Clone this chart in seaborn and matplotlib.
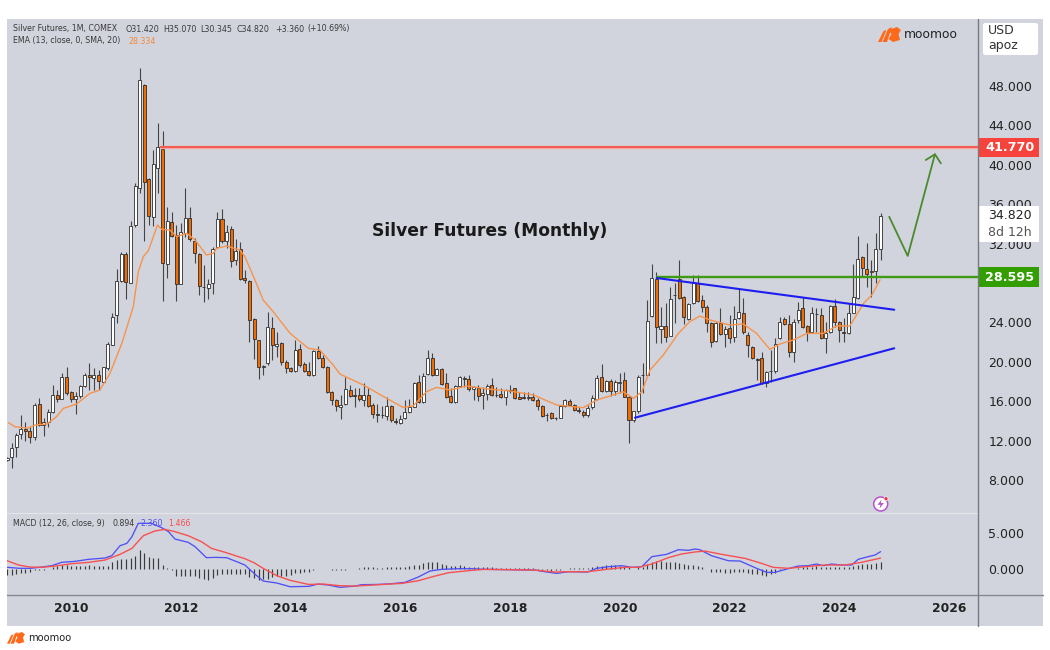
"""
Silver Futures (Monthly) - candles, EMA and MACD
"""
import matplotlib
matplotlib.use("Agg")
import matplotlib.pyplot as plt
import numpy as np
import pandas as pd
import seaborn as sns
from matplotlib.lines import Line2D
from matplotlib.patches import Ellipse, FancyBboxPatch, Polygon, Rectangle
from matplotlib.transforms import IdentityTransform

# monthly candles
OPENS = [10.00,
    10.31, 11.39, 12.64, 13.15, 12.95, 12.34, 15.72, 13.62, 13.93,
    14.87, 16.67, 16.26, 18.50, 16.94, 16.19, 16.50, 17.51, 18.63, 18.36,
    18.63, 17.99, 19.34, 21.74, 24.72, 28.24, 30.91, 28.04, 33.86, 37.65,
    48.10, 38.56, 34.74, 39.68, 41.61, 29.90, 34.16, 32.84, 27.94, 33.11,
    34.57, 32.30, 30.95, 27.63, 27.50, 27.97, 31.69, 34.50, 32.27, 33.45,
    30.34, 31.42, 28.48, 28.21, 24.32, 22.18, 19.51, 19.85, 23.47, 21.64,
    21.95, 19.98, 19.41, 19.04, 21.34, 19.81, 19.10, 18.66, 21.10, 20.42,
    19.51, 16.94, 16.09, 15.38, 15.72, 17.18, 16.60, 16.60, 16.13, 16.67,
    15.59, 14.74, 14.61, 14.50, 15.52, 14.03, 13.79, 14.27, 14.88, 15.45,
    17.96, 15.96, 18.77, 20.43, 18.70, 19.24, 17.85, 16.53, 15.96, 17.58,
    18.36, 18.23, 17.24, 17.31, 16.60, 16.77, 17.65, 16.67, 16.70, 16.43,
    17.18, 17.31, 16.43, 16.40, 16.33, 16.43, 16.16, 15.49, 14.64, 14.77,
    14.30, 14.33, 15.52, 15.99, 15.59, 15.11, 14.94, 14.57, 15.38, 16.23,
    18.50, 17.01, 18.09, 17.04, 17.89, 18.12, 16.46, 14.10, 14.98, 18.63,
    18.66, 24.69, 28.44, 23.30, 23.60, 22.66, 26.79, 28.41, 26.62, 24.38,
    25.94, 28.04, 26.24, 25.60, 23.91, 22.15, 23.98, 22.83, 23.40, 22.49,
    24.42, 24.92, 22.76, 21.54, 20.25, 20.36, 17.89, 19.04, 19.07, 22.39,
    24.32, 23.81, 21.00, 24.25, 25.43, 23.60, 23.03, 24.89, 24.79, 22.39,
    23.00, 25.64, 24.01, 23.03, 22.89, 24.99, 26.52, 30.61, 29.39, 29.15,
    29.22, 31.42]
HIGHS = [10.30,
    11.73, 12.74, 14.60, 13.93, 13.35, 15.85, 16.29, 14.26, 15.18,
    17.65, 17.14, 18.90, 19.51, 17.07, 16.97, 17.65, 18.83, 19.85, 19.34,
    19.17, 19.51, 22.05, 24.92, 29.39, 31.18, 31.18, 34.33, 38.15, 49.83,
    48.20, 38.66, 41.50, 44.24, 43.43, 35.72, 35.25, 33.89, 34.13, 37.65,
    35.72, 32.54, 31.02, 29.83, 28.41, 31.69, 35.25, 35.48, 33.89, 33.79,
    32.44, 32.20, 29.32, 28.31, 24.42, 22.22, 19.68, 25.09, 24.52, 23.06,
    22.05, 20.19, 19.51, 22.22, 21.81, 20.02, 20.02, 21.20, 21.64, 20.69,
    19.61, 17.07, 16.19, 16.64, 18.50, 17.65, 17.31, 17.31, 17.82, 17.31,
    15.79, 15.69, 15.52, 16.40, 15.62, 14.27, 14.61, 16.13, 16.20, 17.99,
    18.67, 18.90, 21.20, 20.93, 19.34, 19.34, 18.84, 17.31, 17.65, 18.57,
    18.57, 18.67, 17.55, 17.65, 17.48, 17.75, 18.33, 17.48, 17.31, 17.21,
    17.65, 17.38, 16.97, 16.97, 16.97, 16.87, 16.30, 15.62, 14.77, 14.94,
    14.44, 15.62, 16.20, 16.20, 15.69, 15.38, 15.11, 15.62, 16.64, 18.67,
    19.78, 18.16, 18.23, 18.16, 18.90, 19.00, 16.53, 15.04, 18.66, 19.85,
    26.28, 29.93, 29.15, 25.60, 25.94, 27.63, 27.97, 30.34, 26.68, 25.94,
    28.82, 28.82, 26.79, 25.74, 24.08, 24.08, 25.43, 23.64, 24.76, 25.67,
    27.46, 26.45, 23.06, 21.61, 20.36, 21.03, 19.10, 21.20, 22.39, 24.52,
    24.59, 24.76, 24.32, 26.11, 26.55, 23.74, 25.53, 25.43, 25.43, 24.08,
    25.74, 26.35, 24.18, 24.42, 25.94, 29.93, 32.78, 30.74, 32.03, 30.34,
    33.05, 35.07]
LOWS = [9.90,
    9.23, 10.37, 12.13, 12.00, 11.79, 12.07, 13.49, 12.47, 13.42,
    14.77, 15.96, 16.19, 16.63, 15.96, 14.71, 16.30, 17.41, 17.14, 17.14,
    17.14, 17.89, 19.17, 21.68, 23.98, 28.14, 26.35, 27.97, 33.66, 37.14,
    32.30, 33.89, 33.79, 37.14, 26.21, 28.48, 32.71, 26.21, 27.90, 32.71,
    32.30, 30.00, 26.79, 26.11, 26.41, 26.89, 31.62, 32.03, 31.52, 29.66,
    29.83, 28.31, 27.97, 22.05, 20.25, 18.22, 18.66, 19.68, 20.19, 20.53,
    19.68, 18.83, 19.00, 18.97, 19.51, 19.00, 18.56, 18.56, 20.25, 19.34,
    16.80, 15.62, 15.04, 14.17, 15.62, 16.40, 15.38, 16.06, 15.52, 15.45,
    14.27, 13.93, 14.27, 14.10, 13.93, 13.66, 13.69, 14.20, 14.84, 15.38,
    15.86, 15.86, 18.67, 18.57, 18.63, 17.65, 16.30, 15.79, 15.86, 17.48,
    17.48, 17.08, 16.13, 16.06, 15.18, 16.13, 16.53, 16.40, 16.36, 15.62,
    16.87, 16.20, 16.20, 16.20, 16.13, 16.03, 15.11, 14.37, 14.03, 14.17,
    14.10, 14.27, 15.38, 15.52, 15.05, 14.84, 14.37, 14.44, 15.21, 16.13,
    16.94, 16.94, 16.53, 16.60, 16.81, 16.40, 11.73, 13.93, 14.84, 16.80,
    18.56, 24.59, 21.88, 21.88, 21.98, 22.62, 23.91, 26.35, 23.84, 24.25,
    25.87, 26.07, 25.09, 23.06, 21.47, 22.05, 22.72, 21.47, 21.95, 22.05,
    24.32, 22.83, 20.53, 20.25, 18.16, 17.75, 17.41, 17.99, 18.90, 22.28,
    23.71, 20.53, 19.95, 23.98, 23.40, 22.15, 22.89, 23.06, 22.32, 20.93,
    22.89, 23.57, 22.05, 22.05, 22.83, 24.92, 26.35, 28.71, 27.56, 26.62,
    28.04, 30.345]
CLOSES = [10.25,
    11.29, 12.54, 13.15, 12.95, 12.34, 15.58, 13.62, 13.93, 14.87,
    16.67, 16.23, 18.50, 16.80, 16.19, 16.50, 17.51, 18.63, 18.46, 18.70,
    18.02, 19.44, 21.84, 24.52, 28.24, 30.91, 28.14, 33.82, 37.85, 48.61,
    38.26, 34.81, 40.08, 41.81, 30.07, 34.33, 32.78, 27.87, 33.22, 34.57,
    32.44, 31.02, 27.73, 27.56, 27.87, 31.42, 34.54, 32.30, 33.22, 30.20,
    31.29, 28.41, 28.27, 24.21, 22.28, 19.44, 19.61, 23.50, 21.71, 21.84,
    19.98, 19.34, 19.04, 21.20, 19.71, 19.10, 18.63, 21.07, 20.42, 19.51,
    16.97, 16.13, 15.52, 15.59, 17.21, 16.50, 16.53, 16.20, 16.67, 15.55,
    14.74, 14.61, 14.57, 15.52, 14.10, 13.86, 14.23, 14.88, 15.38, 17.82,
    15.96, 18.60, 20.36, 18.70, 19.24, 17.79, 16.43, 15.93, 17.52, 18.43,
    18.23, 17.21, 17.41, 16.57, 16.81, 17.58, 16.67, 16.60, 16.47, 17.14,
    17.04, 16.36, 16.26, 16.36, 16.43, 16.13, 15.52, 14.54, 14.57, 14.27,
    14.27, 15.52, 16.09, 15.59, 15.15, 14.98, 14.57, 15.32, 16.36, 18.36,
    17.04, 18.09, 17.08, 17.92, 17.99, 16.46, 14.10, 14.98, 18.50, 18.66,
    24.18, 28.55, 23.50, 23.60, 22.56, 26.38, 26.82, 26.45, 24.52, 25.87,
    27.97, 26.14, 25.53, 23.98, 22.05, 23.98, 22.83, 23.30, 22.39, 24.32,
    25.09, 23.03, 21.68, 20.36, 20.22, 17.82, 18.97, 19.07, 21.78, 24.01,
    23.81, 21.00, 24.08, 25.23, 23.54, 22.96, 24.92, 24.82, 22.39, 22.96,
    25.64, 24.01, 23.23, 22.89, 24.92, 26.62, 30.41, 29.56, 28.95, 29.19,
    31.42, 34.82]

# EMA line, read at its turning points (bar number, price)
EMA_BARS = [0.3, 1.7, 4.6, 6.1, 8.7, 10.8, 12.3, 15.2, 18.1, 20.3, 22.5, 25.1, 27.6, 28.7, 29.8, 30.9,
            32.9, 33.8, 35.6, 37.1, 39.3, 41.1, 43.6, 45.1, 45.8, 48, 50.9, 52, 54.2, 56, 58.2, 61.9,
            65.9, 68.4, 71.3, 72.8, 77.9, 83, 86.6, 88.8, 91.7, 93.9, 96.9, 100.5, 105, 110, 115.1,
            120.2, 126, 128.9, 132.6, 134.7, 137, 138.8, 140.6, 143.5, 146.8, 149.3, 151.5, 153.7,
            158.1, 161, 163.9, 166.8, 169, 171.9, 174.9, 178.5, 181.4, 184.3, 187.3, 189.1, 190.9]
EMA_VALUES = [13.83, 13.42, 13.28, 13.59, 13.69, 14.43, 15.28, 15.72, 16.80, 17.14, 18.83, 21.88, 25.60, 29.15, 30.68, 31.29,
              33.89, 33.45, 33.38, 32.71, 33.05, 32.37, 30.85, 31.02, 31.52, 31.76, 31.35, 30.68, 28.31, 26.28, 25.09, 22.89,
              21.37, 21.20, 19.68, 18.76, 17.65, 16.30, 15.38, 15.52, 16.97, 17.41, 17.14, 17.55, 17.25, 17.04, 16.64,
              15.62, 15.35, 16.13, 16.64, 16.97, 16.30, 16.97, 19.17, 20.69, 22.89, 24.08, 24.65, 24.25,
              23.74, 23.84, 22.89, 21.27, 21.81, 22.22, 22.89, 22.89, 23.64, 23.64, 25.94, 26.79, 28.33]

# MACD histogram, one value per bar
MACD_HIST = [-0.90, -0.88, -0.79, -0.60, -0.56, -0.51, -0.19, -0.14, -0.14, -0.05,
    0.23, 0.37, 0.51, 0.51, 0.37, 0.32, 0.42, 0.42, 0.51, 0.37,
    0.32, 0.37, 0.42, 0.88, 1.16, 1.39, 1.39, 1.53, 1.81, 2.55,
    2.13, 1.62, 1.53, 1.48, 0.51, 0.09, -0.19, -1.02, -1.02, -0.97,
    -0.97, -1.06, -1.25, -1.48, -1.57, -1.25, -0.93, -0.69, -0.74, -0.69,
    -0.69, -0.79, -0.79, -1.16, -1.34, -1.53, -1.48, -1.44, -1.16, -1.06,
    -1.06, -1.02, -0.88, -0.65, -0.56, -0.46, -0.46, -0.14, -0.03, -0.05,
    -0.05, -0.19, -0.23, -0.23, -0.14, -0.09, 0.02, 0.09, 0.19, 0.23,
    0.19, 0.14, 0.14, 0.23, 0.19, 0.19, 0.19, 0.28, 0.32, 0.51,
    0.56, 0.79, 0.93, 0.93, 0.93, 0.65, 0.51, 0.42, 0.32, 0.46,
    0.42, 0.28, 0.19, 0.19, 0.19, 0.23, 0.19, 0.09, 0.09, 0.09,
    0.09, 0.09, 0.09, 0.09, 0.09, 0.09, -0.19, -0.23, -0.23, -0.28,
    -0.23, -0.19, 0.02, 0.05, 0.05, 0.05, 0.05, 0.05, 0.19, 0.37,
    0.42, 0.46, 0.51, 0.46, 0.37, 0.37, 0.19, -0.09, 0.19, 0.28,
    0.60, 0.97, 1.11, 1.11, 0.88, 0.93, 0.93, 0.83, 0.65, 0.56,
    0.56, 0.42, 0.28, 0.02, -0.42, -0.46, -0.51, -0.60, -0.56, -0.51,
    -0.51, -0.51, -0.60, -0.69, -0.79, -0.93, -0.97, -0.79, -0.65, -0.14,
    -0.09, -0.05, -0.02, 0.14, 0.28, 0.28, 0.28, 0.37, 0.28, 0.23,
    0.28, 0.23, 0.19, 0.19, 0.19, 0.32, 0.51, 0.65, 0.60, 0.60,
    0.74, 0.89]

MACD_BARS = [0.1, 2.8, 5, 7.6, 9.8, 11.9, 14.9, 17.8, 21.4, 22.9, 24.7, 26.2, 27.3, 28.7, 31.6, 33.8, 35.3, 36.7,
             39.6, 41.1, 43.6, 45.5, 48, 50.6, 52, 54, 56, 59, 61.9, 66, 68, 70.3, 72.8, 76.1, 77.5, 81.2, 84.1,
             87, 89.9, 92.5, 95, 98.7, 101.6, 104.5, 115.4, 117.6, 120.2, 122.7, 127, 128.9, 131.5, 134.4, 136.6,
             138.8, 141, 144.2, 146.8, 149, 150.4, 151.5, 154, 157.7, 160.3, 163.9, 166.1, 167.9, 170.5, 173,
             175.2, 177, 178.5, 180.3, 182.5, 184.7, 186.1, 188.3, 189.8, 191]
MACD_VALUES = [0.19, 0.05, 0.05, 0.23, 0.42, 0.88, 1.02, 1.30, 1.48, 1.81, 3.19, 3.52, 4.44, 6.30, 6.30, 5.69, 5.14, 4.12,
               3.66, 3.06, 1.53, 1.57, 1.53, 0.88, 0.51, -0.65, -1.71, -1.99, -2.50, -2.45, -2.13, -2.27, -2.59, -2.41, -2.22, -2.18, -2.08,
               -1.90, -1.16, -0.32, -0.09, 0.00, 0.00, -0.09, -0.19, -0.42, -0.65, -0.42, -0.46, 0.05, 0.28, 0.42, 0.19,
               0.28, 1.67, 1.99, 2.64, 2.55, 2.73, 2.64, 1.81, 1.11, 1.06, 0.05, -0.51, -0.51, -0.05, 0.37,
               0.42, 0.65, 0.42, 0.65, 0.51, 0.51, 1.30, 1.67, 1.90, 2.36]

SIGNAL_BARS = [0, 2.5, 5, 7.6, 10.5, 14.1, 17.8, 21.4, 24.7, 27.3, 29.8, 32.3, 34.5, 36.7, 39.6, 42.5, 44.7, 47.7,
               50.6, 52, 54, 56, 59, 61.9, 65.9, 69.2, 72.8, 76.1, 81.2, 86.3, 89.9, 93.6, 96.5, 101.6, 104.5,
               115.4, 119.8, 122.7, 127, 131.5, 135.1, 138.1, 141, 144.6, 147.5, 150.4, 152.6, 156.3, 161.4, 165,
               167.5, 170.9, 174.5, 178.9, 183.2, 186.8, 191]
SIGNAL_VALUES = [1.11, 0.51, 0.23, 0.19, 0.37, 0.69, 0.88, 1.20, 1.99, 2.82, 4.58, 5.23, 5.46, 5.14, 4.58, 3.75, 2.82, 2.27,
                 1.67, 1.39, 0.83, 0.05, -0.97, -1.62, -2.18, -2.13, -2.36, -2.41, -2.22, -2.04, -1.67, -1.02, -0.56, -0.23, -0.09,
                 -0.19, -0.46, -0.42, -0.42, -0.05, 0.19, 0.19, 0.65, 1.53, 2.04, 2.32, 2.45, 1.99, 1.43, 0.74,
                 0.19, 0.05, 0.28, 0.51, 0.51, 0.88, 1.47]

# drawn levels and trend lines
RESISTANCE = 41.770
SUPPORT = 28.595
RESISTANCE_START = 33.4
SUPPORT_START = 142.0
UPPER_TREND_BARS = [142.06, 194.0]
UPPER_TREND_VALUES = [28.51, 25.29]
LOWER_TREND_BARS = [137.3, 194.0]
LOWER_TREND_VALUES = [14.33, 21.38]
PATH_BARS = [192.9, 196.95, 202.9]
PATH_VALUES = [34.73, 30.75, 41.07]
HEAD_BARS = [200.9, 202.9, 204.2]
HEAD_VALUES = [40.49, 41.07, 40.15]
LAST_PRICE = 34.820

YEAR_TICKS = [14, 38, 62, 86, 110, 134, 158, 182, 206]
YEAR_LABELS = ['2010', '2012', '2014', '2016', '2018', '2020', '2022', '2024', '2026']
# 28.000 sits fully behind the green price tag, so it never shows
PRICE_TICKS = [8, 12, 16, 20, 24, 32, 36, 40, 44, 48]
MACD_TICKS = [0, 5]

W, H = 1050, 650
PANEL = '#D1D4DC'
ORANGE = '#F26B00'
DARK = '#2E2E2E'
BLUE = '#1E1EF0'
GREEN_LINE = '#3F9A14'
GREEN_TAG = '#329E02'
RED_LINE = '#F2443C'
RED_TAG = '#F6443C'
ARROW = '#4A8A2E'
BAR_PX = 4.573

sns.set_theme(style='white')
plt.rcParams['font.family'] = ['DejaVu Sans']


def fx(px):
    return px / W


def fy(py):
    return 1 - py / H


def label(fig, px, py, s, **kw):
    kw.setdefault('fontsize', 5.65)
    kw.setdefault('color', '#3A3A3A')
    kw.setdefault('va', 'center')
    fig.text(fx(px), fy(py), s, **kw)


def draw_logo(fig, x0, y0, scale):
    # rough moomoo bull mark, in pixels from its top left corner
    shapes = [
        [(0, 15), (5.5, 4), (8.5, 3), (3.5, 15)],
        [(4.5, 15), (10, 2), (14, 0), (9, 15)],
        [(10.5, 3), (19, 0), (23, 3), (20.5, 7), (22, 13), (15, 15), (10.5, 12), (13.5, 7)],
    ]
    for shape in shapes:
        pts = [(fx(x0 + a * scale), fy(y0 + b * scale)) for a, b in shape]
        fig.add_artist(Polygon(pts, closed=True, facecolor='#FF6A1A', edgecolor='none', transform=fig.transFigure))


def draw_candles(ax, candles):
    up = candles['close'] >= candles['open']
    ax.vlines(candles['bar'], candles['low'], candles['high'], colors='#444444', linewidth=0.8, zorder=2)
    body_low = candles[['open', 'close']].min(axis=1)
    body_high = candles[['open', 'close']].max(axis=1)
    ax.bar(candles['bar'], body_high - body_low, bottom=body_low, width=0.66,
           color=np.where(up, '#FFFFFF', ORANGE), edgecolor=DARK, linewidth=0.6, zorder=3)


def price_tag(ax, value, height, color, text, text_color='white', zorder=5):
    ax.add_patch(Rectangle((1.0005, value - height / 2), 0.0615, height, transform=ax.get_yaxis_transform(),
                           facecolor=color, edgecolor='none', clip_on=False, zorder=zorder))
    ax.text(1.0325, value, text, transform=ax.get_yaxis_transform(), color=text_color, fontsize=9.2,
            fontweight='bold', ha='center', va='center', clip_on=False, zorder=zorder + 1)


fig = plt.figure(figsize=(W / 100, H / 100), dpi=100, facecolor='white')
fig.add_artist(Rectangle((fx(7.3), fy(625.5)), (1042.7 - 7.3) / W, (625.5 - 19) / H, transform=fig.transFigure,
                         facecolor=PANEL, edgecolor='none', zorder=-1))

ax = fig.add_axes([fx(7.3), fy(512.5), (978.3 - 7.3) / W, (512.5 - 19) / H])
ax_macd = fig.add_axes([fx(7.3), fy(595), (978.3 - 7.3) / W, (595 - 512.5) / H], sharex=ax)

candles = pd.DataFrame({'bar': np.arange(len(OPENS)), 'open': OPENS, 'high': HIGHS, 'low': LOWS, 'close': CLOSES})
draw_candles(ax, candles)

sns.lineplot(x=EMA_BARS, y=EMA_VALUES, ax=ax, color='#F7934C', linewidth=1.0, sort=False, estimator=None, legend=False, zorder=4)

# levels
xmax = (978.3 - 7.07) / BAR_PX
ax.hlines(RESISTANCE, RESISTANCE_START, xmax, color='#F8A8A0', linewidth=2.4, zorder=4)
ax.hlines(RESISTANCE, RESISTANCE_START, xmax, color=RED_LINE, linewidth=1.1, zorder=4)
ax.hlines(SUPPORT, SUPPORT_START, xmax, color=GREEN_LINE, linewidth=1.7, zorder=4)
sns.lineplot(x=UPPER_TREND_BARS, y=UPPER_TREND_VALUES, ax=ax, color=BLUE, linewidth=1.5, legend=False, zorder=5)
sns.lineplot(x=LOWER_TREND_BARS, y=LOWER_TREND_VALUES, ax=ax, color=BLUE, linewidth=1.5, legend=False, zorder=5)
sns.lineplot(x=PATH_BARS, y=PATH_VALUES, ax=ax, color=ARROW, linewidth=1.3, sort=False, estimator=None, legend=False, zorder=5)
sns.lineplot(x=HEAD_BARS, y=HEAD_VALUES, ax=ax, color=ARROW, linewidth=1.3, sort=False, estimator=None, legend=False, zorder=5)

ax.set_xlim((7.3 - 7.07) / BAR_PX, xmax)
ax.set_ylim(4.71, 54.8)
ax.yaxis.tick_right()
ax.set_yticks(PRICE_TICKS)
ax.set_yticklabels([f'{v:.3f}' for v in PRICE_TICKS], fontsize=9, color='#222222')
ax.tick_params(axis='y', length=0, pad=7.2)
ax.tick_params(axis='x', length=0, labelbottom=False)
ax.set_xlabel('')
ax.set_ylabel('')
ax.set_facecolor(PANEL)
for spine in ax.spines.values():
    spine.set_visible(False)

price_tag(ax, RESISTANCE, 1.99, RED_TAG, f'{RESISTANCE:.3f}')
price_tag(ax, SUPPORT, 2.03, GREEN_TAG, f'{SUPPORT:.3f}')
ax.add_patch(Rectangle((1.0005, 32.2), 0.0615, 3.62, transform=ax.get_yaxis_transform(), facecolor='white',
                       edgecolor='none', clip_on=False, zorder=5))
ax.text(1.0325, LAST_PRICE, f'{LAST_PRICE:.3f}', transform=ax.get_yaxis_transform(), color='#222222', fontsize=9,
        ha='center', va='center', clip_on=False, zorder=6)
ax.text(1.0325, 33.15, '8d 12h', transform=ax.get_yaxis_transform(), color='#555555', fontsize=9,
        ha='center', va='center', clip_on=False, zorder=6)

label(fig, 490, 231, 'Silver Futures (Monthly)', fontsize=12.3, fontweight='bold', color='#1A1A1A', ha='center')

# MACD pane
ax_macd.vlines(candles['bar'], 0, MACD_HIST, colors='#3A3A3A', linewidth=0.85, zorder=2)
sns.lineplot(x=MACD_BARS, y=MACD_VALUES, ax=ax_macd, color='#5050F5', linewidth=0.95, sort=False, estimator=None, legend=False, zorder=3)
sns.lineplot(x=SIGNAL_BARS, y=SIGNAL_VALUES, ax=ax_macd, color='#F85050', linewidth=1.0, sort=False, estimator=None, legend=False, zorder=4)
ax_macd.set_ylim(-3.65, 7.8)
ax_macd.yaxis.tick_right()
ax_macd.set_yticks(MACD_TICKS)
ax_macd.set_yticklabels([f'{v:.3f}' for v in MACD_TICKS], fontsize=9, color='#222222')
ax_macd.tick_params(axis='y', length=0, pad=7.2)
ax_macd.set_xticks(YEAR_TICKS)
ax_macd.set_xticklabels(YEAR_LABELS, fontsize=8.8, fontweight='bold', color='#222222')
ax_macd.tick_params(axis='x', length=0, pad=5)
ax_macd.set_xlabel('')
ax_macd.set_ylabel('')
ax_macd.set_facecolor(PANEL)
for spine in ax_macd.spines.values():
    spine.set_visible(False)

# pane borders
fig.add_artist(Line2D([fx(7.3), fx(978.3)], [fy(512.5), fy(512.5)], color='#E4E6EC', linewidth=0.8, zorder=5))
fig.add_artist(Line2D([fx(7.3), fx(1042.7)], [fy(595), fy(595)], color='#85888F', linewidth=1.0, zorder=5))
fig.add_artist(Line2D([fx(978.3), fx(978.3)], [fy(19), fy(625.5)], color='#777A82', linewidth=1.0, zorder=5))

# header lines
for px, s in [(13.3, 'Silver Futures, 1M, COMEX'), (125, 'O31.420'), (163, 'H35.070'), (200, 'L30.345'),
              (237, 'C34.820'), (275, '+3.360'), (307, '(+10.69%)')]:
    label(fig, px, 29, s)
label(fig, 13.3, 41, 'EMA (13, close, 0, SMA, 20)')
label(fig, 128.3, 41, '28.334', color='#F58A3C')
label(fig, 13.3, 523.3, 'MACD (12, 26, close, 9)')
label(fig, 112.7, 523.3, '0.894')
label(fig, 140, 523.3, '2.360', color='#5050F5')
label(fig, 168, 523.3, '1.466', color='#F85050')

# unit box
fig.add_artist(FancyBboxPatch((983, H - 55), 55, 32, boxstyle='round,pad=0,rounding_size=2.5', transform=IdentityTransform(),
                              facecolor='white', edgecolor='none', zorder=6))
label(fig, 988, 30.7, 'USD', fontsize=9, color='#333333', zorder=7)
label(fig, 988, 46, 'apoz', fontsize=9, color='#333333', zorder=7)

# moomoo marks
draw_logo(fig, 878, 27, 1.0)
label(fig, 904, 35, 'moomoo', fontsize=8.8, color='#222222')
draw_logo(fig, 7, 632, 0.78)
label(fig, 28, 638, 'moomoo', fontsize=7.1, color='#222222')

# lightning badge
fig.add_artist(Ellipse((fx(880.7), fy(504)), 14 / W, 14 / H, facecolor='white', edgecolor='#B455C8', linewidth=1.1,
                       transform=fig.transFigure, zorder=6))
fig.add_artist(Polygon([(fx(881.5), fy(499.5)), (fx(877.5), fy(504.8)), (fx(880.4), fy(504.8)), (fx(879.6), fy(508.5)),
                        (fx(883.8), fy(503)), (fx(880.8), fy(503))], closed=True, facecolor='#B455C8', edgecolor='none',
                       transform=fig.transFigure, zorder=7))
fig.add_artist(Ellipse((fx(886), fy(498.7)), 4 / W, 4 / H, facecolor='#F23645', edgecolor='white', linewidth=0.4,
                       transform=fig.transFigure, zorder=8))

fig.savefig('out.png', dpi=100, facecolor='white')
plt.close(fig)
